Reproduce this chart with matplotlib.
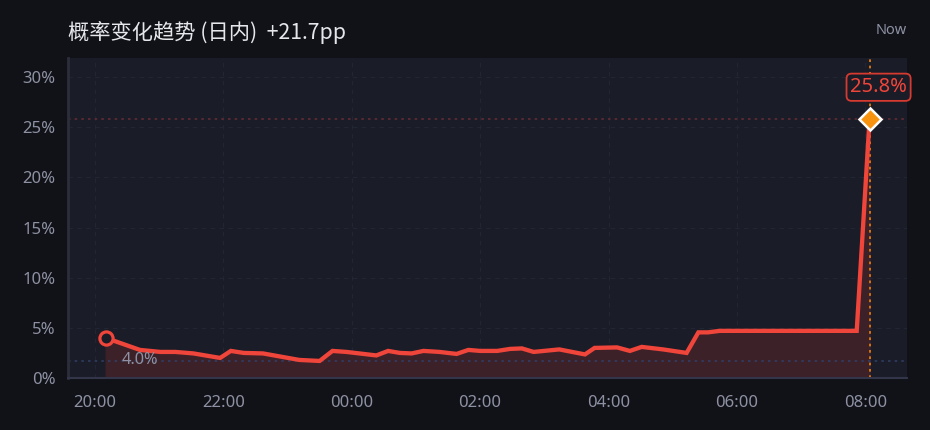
import matplotlib
matplotlib.use("Agg")
import matplotlib.pyplot as plt

plt.rcParams['font.family'] = ['Noto Sans', 'Noto Sans CJK SC', 'DejaVu Sans']

# datos
times = ["20:10", "20:42", "21:01", "21:15", "21:32", "21:57", "22:07", "22:19",
         "22:37", "23:11", "23:30", "23:42", "23:55", "00:23", "00:34", "00:45",
         "00:56", "01:07", "01:22", "01:38", "01:49", "02:00", "02:16", "02:28",
         "02:39", "02:50", "03:14", "03:38", "03:47", "04:08", "04:20", "04:31",
         "04:51", "05:13", "05:24", "05:33", "05:44", "07:52", "08:04"]
probs = [4.0, 2.8, 2.6, 2.6, 2.45, 2.0, 2.7, 2.5,
         2.45, 1.8, 1.7, 2.7, 2.6, 2.25, 2.7, 2.5,
         2.45, 2.7, 2.6, 2.4, 2.8, 2.7, 2.7, 2.9,
         2.95, 2.6, 2.85, 2.35, 3.0, 3.05, 2.7, 3.1,
         2.85, 2.5, 4.55, 4.55, 4.7, 4.7, 25.8]
tick_labels = ["20:00", "22:00", "00:00", "02:00", "04:00", "06:00", "08:00"]
y_ticks = [0, 5, 10, 15, 20, 25, 30]
title = "概率变化趋势 (日内)  +21.7pp"


def horas(t):
    hh, mm = t.split(":")
    h = int(hh) + int(mm) / 60
    if h < 12:
        h += 24
    return h - 20


x = [horas(t) for t in times]
xt = [horas(t) for t in tick_labels]

bg = '#111217'
ax_bg = '#1a1c27'
rojo = '#f0453a'
gris = '#8e91a3'

fig = plt.figure(figsize=(9.3, 4.3), dpi=100, facecolor=bg)
ax = fig.add_axes([68 / 930, 1 - 378 / 430, (907 - 68) / 930, (378 - 58) / 430])
ax.set_facecolor(ax_bg)

ax.set_xlim(-0.42, 12.65)
ax.set_ylim(0, 31.9)

ax.grid(True, color='#222533', linestyle=(0, (4, 4)), linewidth=0.8)
ax.set_axisbelow(True)

ax.fill_between(x, probs, 0, color='#3c2128', zorder=1)
ax.plot(x, probs, color=rojo, linewidth=3.1, solid_joinstyle='miter', zorder=3)

# lineas de referencia
ax.axhline(probs[-1], color='#622b35', linestyle=(0, (1.5, 2.5)), linewidth=1.2, zorder=2)
ax.axhline(min(probs), color='#2f3d63', linestyle=(0, (1.5, 2.5)), linewidth=1.2, zorder=2)
ax.axvline(x[-1], color='#e07a10', linestyle=(0, (1.5, 2)), linewidth=1.3, zorder=2)

# marcadores
ax.plot(x[0], probs[0], marker='o', markersize=9.5, markerfacecolor=ax_bg,
        markeredgecolor=rojo, markeredgewidth=2.3, zorder=5)
ax.plot(x[-1], probs[-1], marker='D', markersize=11.5, markerfacecolor='#f7930e',
        markeredgecolor='white', markeredgewidth=1.8, zorder=5)

ax.annotate(f"{probs[0]:.1f}%", (x[0], probs[0]), xytext=(11.5, -16),
            textcoords='offset points', color=gris, fontsize=11.8, va='center')
ax.annotate(f"{probs[-1]:.1f}%", (x[-1], probs[-1]), xytext=(6.5, 23),
            textcoords='offset points', color=rojo, fontsize=14.5, ha='center', va='center',
            bbox=dict(boxstyle='round,pad=0.18,rounding_size=0.25', fc='#1a1c27', ec='#d63a30', lw=1.3),
            zorder=6)

ax.set_xticks(xt)
ax.set_xticklabels(tick_labels)
ax.set_yticks(y_ticks)
ax.set_yticklabels([f"{v}%" for v in y_ticks])
ax.tick_params(axis='both', length=0, colors=gris, labelsize=12)
ax.tick_params(axis='x', pad=12)
ax.tick_params(axis='y', pad=9)

for s in ['top', 'right']:
    ax.spines[s].set_visible(False)
ax.spines['left'].set_color('#2c2e3a')
ax.spines['left'].set_linewidth(2)
ax.spines['bottom'].set_color('#33354a')
ax.spines['bottom'].set_linewidth(1.5)

fig.text(68 / 930, 1 - 32 / 430, title, color='#e6e7eb', fontsize=15.3, va='center',
         family=['Noto Sans CJK SC', 'DejaVu Sans'])
fig.text(907 / 930, 1 - 31 / 430, "Now", color=gris, fontsize=10.5, va='center', ha='right')

plt.savefig('out.png', dpi=100, facecolor=bg)
